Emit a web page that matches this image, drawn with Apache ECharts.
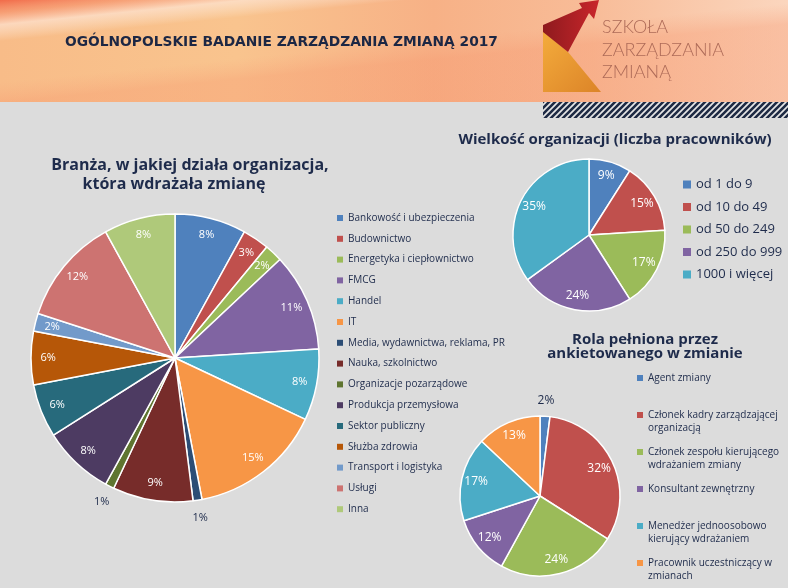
<!DOCTYPE html>
<html><head><meta charset="utf-8">
<script src="https://cdn.jsdelivr.net/npm/echarts@6/dist/echarts.min.js"></script>
<style>html,body{margin:0;padding:0;background:#DCDCDC}#c{width:788px;height:588px}</style>
</head><body><div id="c"></div>
<script>
// ---------- DATA ----------
const industryNames = ['Bankowość i ubezpieczenia','Budownictwo','Energetyka i ciepłownictwo','FMCG','Handel','IT','Media, wydawnictwa, reklama, PR','Nauka, szkolnictwo','Organizacje pozarządowe','Produkcja przemysłowa','Sektor publiczny','Służba zdrowia','Transport i logistyka','Usługi','Inna'];
const industryValues = [8,3,2,11,8,15,1,9,1,8,6,6,2,12,8];
const industryColors = ['#4F81BD','#C0504D','#9BBB59','#8064A2','#4BACC6','#F79646','#2C4D75','#772C2A','#5F7530','#4D3B62','#276A7C','#B65708','#729ACA','#CD7371','#AFC97A'];
const industryOutside = ['Media, wydawnictwa, reklama, PR','Organizacje pozarządowe'];

const sizeNames = ['od 1 do 9','od 10 do 49','od 50 do 249','od 250 do 999','1000 i więcej'];
const sizeValues = [9,15,17,24,35];
const sizeColors = ['#4F81BD','#C0504D','#9BBB59','#8064A2','#4BACC6'];

const roleNames = ['Agent zmiany','Członek kadry zarządzającej organizacją','Członek zespołu kierującego wdrażaniem zmiany','Konsultant zewnętrzny','Menedżer jednoosobowo kierujący wdrażaniem','Pracownik uczestniczący w zmianach'];
const roleLegendLines = ['Agent zmiany\n ','Członek kadry zarządzającej\norganizacją','Członek zespołu kierującego\nwdrażaniem zmiany','Konsultant zewnętrzny\n ','Menedżer jednoosobowo\nkierujący wdrażaniem','Pracownik uczestniczący w\nzmianach'];
const roleValues = [2,32,24,12,17,13];
const roleColors = ['#4F81BD','#C0504D','#9BBB59','#8064A2','#4BACC6','#F79646'];
const roleOutside = ['Agent zmiany'];

// ---------- HELPERS ----------
const FONT = 'Open Sans';
const NAVY = '#1E2B4B';
function pieSeries(id, names, values, colors, center, r, kIn, kOut, outsideNames, fs) {
  const base = {
    type: 'pie', center: center, startAngle: 90, clockwise: true,
    avoidLabelOverlap: false, animation: false, labelLine: { show: false },
    emphasis: { disabled: true }
  };
  const main = Object.assign({}, base, {
    name: id, radius: [0, r],
    itemStyle: { borderColor: '#ffffff', borderWidth: 1.5 },
    label: { show: false },
    data: names.map((n, i) => ({ name: n, value: values[i], itemStyle: { color: colors[i] } }))
  });
  const inner = Object.assign({}, base, {
    name: id + '-lab', radius: [r * (2 * kIn - 1), r], silent: true, legendHoverLink: false,
    itemStyle: { color: 'rgba(0,0,0,0)', borderWidth: 0 },
    label: { show: true, position: 'inside', formatter: '{c}%', color: '#ffffff', fontSize: fs, fontFamily: FONT },
    data: names.map((n, i) => ({ name: n, value: values[i], label: { show: outsideNames.indexOf(n) < 0 } }))
  });
  const outer = Object.assign({}, base, {
    name: id + '-out', radius: [r, r * (2 * kOut - 1)], silent: true, legendHoverLink: false,
    itemStyle: { color: 'rgba(0,0,0,0)', borderWidth: 0 },
    label: { show: true, position: 'inside', formatter: '{c}%', color: NAVY, fontSize: fs, fontFamily: FONT },
    data: names.map((n, i) => ({ name: n, value: values[i], label: { show: outsideNames.indexOf(n) >= 0 } }))
  });
  return [main, inner, outer];
}

// hatch pattern
const pat = document.createElement('canvas');
pat.width = 6; pat.height = 6;
(function () {
  const c = pat.getContext('2d');
  c.fillStyle = '#E6E6E6'; c.fillRect(0, 0, 6, 6);
  c.strokeStyle = '#1E2A44'; c.lineWidth = 2.6;
  c.beginPath();
  c.moveTo(-1, 7); c.lineTo(7, -1);
  c.moveTo(-4, 4); c.lineTo(4, -4);
  c.moveTo(2, 10); c.lineTo(10, 2);
  c.stroke();
})();

const chart = echarts.init(document.getElementById('c'), null, { renderer: 'canvas' });
const option = {
  backgroundColor: '#DCDCDC',
  animation: false,
  graphic: [
    { type: 'rect', shape: { x: 0, y: 0, width: 788, height: 102 }, silent: true,
      style: { fill: new echarts.graphic.LinearGradient(0, 0, 1, 0, [
        { offset: 0, color: '#F8BC88' }, { offset: 0.3, color: '#F9C48E' },
        { offset: 0.55, color: '#F7B186' }, { offset: 0.75, color: '#F8BC98' }, { offset: 1, color: '#FBD6BE' }]) } },
    { type: 'rect', shape: { x: 0, y: 0, width: 788, height: 102 }, silent: true,
      style: { fill: new echarts.graphic.LinearGradient(0, 0, 0.013, 1, [
        { offset: 0, color: 'rgba(240,92,62,0.85)' }, { offset: 0.12, color: 'rgba(244,120,90,0.45)' },
        { offset: 0.24, color: 'rgba(255,238,232,0.55)' }, { offset: 0.4, color: 'rgba(255,255,255,0)' },
        { offset: 0.8, color: 'rgba(247,160,120,0)' }, { offset: 1, color: 'rgba(246,150,110,0.35)' }]) } },
    { type: 'rect', x: 543, y: 102, silent: true,
      shape: { x: 0, y: 0, width: 245, height: 16 }, style: { fill: { image: pat, repeat: 'repeat' } } },
    { type: 'polygon', silent: true, shape: { points: [[543,31],[568,52],[601,92],[543,92]] },
      style: { fill: new echarts.graphic.LinearGradient(0, 0, 1, 1, [{ offset: 0, color: '#F4AC3C' }, { offset: 1, color: '#DC8428' }]) } },
    { type: 'polygon', silent: true, shape: { points: [[543,25],[582,8],[579,3],[599,0],[594,19],[589,13],[568,52],[543,32]] },
      style: { fill: new echarts.graphic.LinearGradient(0, 0, 1, 0, [{ offset: 0, color: '#8E1A1E' }, { offset: 1, color: '#C9262B' }]) } },
    { type: 'text', silent: true, x: 602, y: 27, style: { text: 'SZKOŁA', font: '300 18px Lato', fill: '#AE6B58', verticalAlign: 'middle' } },
    { type: 'text', silent: true, x: 602, y: 50, style: { text: 'ZARZĄDZANIA', font: '300 18px Lato', fill: '#AE6B58', verticalAlign: 'middle' } },
    { type: 'text', silent: true, x: 602, y: 72, style: { text: 'ZMIANĄ', font: '300 18px Lato', fill: '#AE6B58', verticalAlign: 'middle' } },
    { type: 'text', silent: true, x: 65, y: 42, style: { text: 'OGÓLNOPOLSKIE BADANIE ZARZĄDZANIA ZMIANĄ 2017', font: 'bold 13.8px "DejaVu Sans"', fill: '#1C2744', verticalAlign: 'middle' } },
    { type: 'text', silent: true, x: 190, y: 165, style: { text: 'Branża, w jakiej działa organizacja,', font: 'bold 16px "Open Sans"', fill: NAVY, align: 'center', verticalAlign: 'middle' } },
    { type: 'text', silent: true, x: 174, y: 184, style: { text: 'która wdrażała zmianę', font: 'bold 16px "Open Sans"', fill: NAVY, align: 'center', verticalAlign: 'middle' } },
    { type: 'text', silent: true, x: 615, y: 140, style: { text: 'Wielkość organizacji (liczba pracowników)', font: 'bold 15px "Open Sans"', fill: NAVY, align: 'center', verticalAlign: 'middle' } },
    { type: 'text', silent: true, x: 645, y: 340, style: { text: 'Rola pełniona przez', font: 'bold 15px "Open Sans"', fill: NAVY, align: 'center', verticalAlign: 'middle' } },
    { type: 'text', silent: true, x: 645, y: 354, style: { text: 'ankietowanego w zmianie', font: 'bold 15px "Open Sans"', fill: NAVY, align: 'center', verticalAlign: 'middle' } }
  ],
  legend: [
    { data: industryNames, orient: 'vertical', left: 337, top: 213, padding: 0, itemGap: 10.8,
      icon: 'rect', itemWidth: 6, itemHeight: 6, selectedMode: false, itemStyle: { borderWidth: 0 },
      textStyle: { fontFamily: FONT, fontSize: 10, color: NAVY } },
    { data: sizeNames, orient: 'vertical', left: 683, top: 178, padding: 0, itemGap: 9.5,
      icon: 'rect', itemWidth: 8, itemHeight: 8, selectedMode: false, itemStyle: { borderWidth: 0 },
      textStyle: { fontFamily: FONT, fontSize: 13, color: NAVY } },
    { data: roleNames, orient: 'vertical', left: 637, top: 371.5, padding: 0, itemGap: 11,
      icon: 'path://M0,0H10V10H0Z M0,31.67L10,31.67', itemWidth: 6, itemHeight: 19, selectedMode: false,
      itemStyle: { borderWidth: 0 },
      formatter: (n) => roleLegendLines[roleNames.indexOf(n)],
      textStyle: { fontFamily: FONT, fontSize: 10, lineHeight: 13, color: NAVY } }
  ],
  series: [].concat(
    pieSeries('branza', industryNames, industryValues, industryColors, [175, 358], 144, 0.86, 1.1, industryOutside, 11),
    pieSeries('wielkosc', sizeNames, sizeValues, sizeColors, [589, 235], 76, 0.77, 1.15, [], 12),
    pieSeries('rola', roleNames, roleValues, roleColors, [540, 496], 80, 0.78, 1.16, roleOutside, 12)
  )
};
chart.setOption(option);
</script></body></html>
